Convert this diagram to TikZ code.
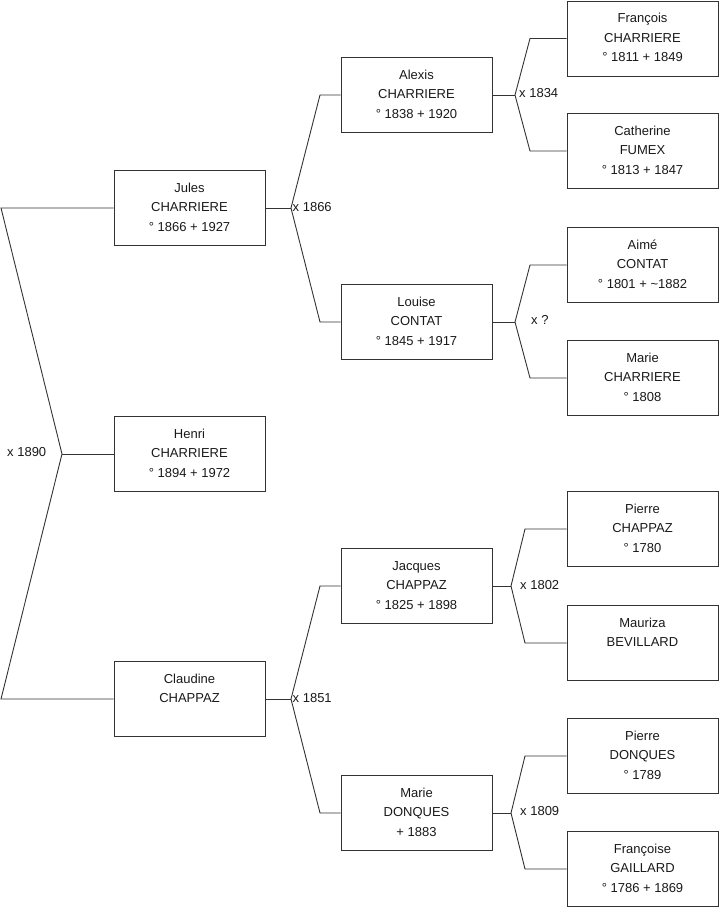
\documentclass[tikz,border=0pt]{standalone}
\usepackage{fontspec}
\setmainfont{Liberation Sans}
\begin{document}
\begin{tikzpicture}[x=1pt,y=-1pt,
  person/.style={draw=black!80, line width=0.9pt, minimum width=151pt, minimum height=75pt,
    inner sep=0pt, align=center, font=\fontsize{13}{19.5}\selectfont, text=black!90},
  link/.style={draw=black!80, line width=0.9pt},
  mar/.style={anchor=west, inner sep=0pt, font=\fontsize{13}{15}\selectfont, text=black!90}]
\useasboundingbox (0,0) rectangle (719,908);

% generation 1
\node[person] (jules)    at (189.5,208) {Jules\strut\\CHARRIERE\strut\\\strut° 1866 + 1927};
\node[person] (henri)    at (189.5,454) {Henri\strut\\CHARRIERE\strut\\\strut° 1894 + 1972};
\node[person] (claudine) at (189.5,699) {Claudine\strut\\CHAPPAZ\strut\\\strut};

% generation 2
\node[person] (alexis)   at (416.5,95)  {Alexis\strut\\CHARRIERE\strut\\\strut° 1838 + 1920};
\node[person] (louise)   at (416.5,322) {Louise\strut\\CONTAT\strut\\\strut° 1845 + 1917};
\node[person] (jacques)  at (416.5,586) {Jacques\strut\\CHAPPAZ\strut\\\strut° 1825 + 1898};
\node[person] (marieD)   at (416.5,813) {Marie\strut\\DONQUES\strut\\\strut+ 1883};

% generation 3
\node[person] (francois)  at (642.5,38.5) {François\strut\\CHARRIERE\strut\\\strut° 1811 + 1849};
\node[person] (catherine) at (642.5,151) {Catherine\strut\\FUMEX\strut\\\strut° 1813 + 1847};
\node[person] (aime)      at (642.5,265) {Aimé\strut\\CONTAT\strut\\\strut° 1801 + \textasciitilde 1882};
\node[person] (marieC)    at (642.5,378) {Marie\strut\\CHARRIERE\strut\\\strut° 1808};
\node[person] (pierreC)   at (642.5,529) {Pierre\strut\\CHAPPAZ\strut\\\strut° 1780};
\node[person] (mauriza)   at (642.5,643) {Mauriza\strut\\BEVILLARD\strut\\\strut};
\node[person] (pierreD)   at (642.5,756) {Pierre\strut\\DONQUES\strut\\\strut° 1789};
\node[person] (francoise) at (642.5,869) {Françoise\strut\\GAILLARD\strut\\\strut° 1786 + 1869};

% marriage 1890
\coordinate (m1890)  at (62,454);
\coordinate (m1890t) at (1,208);
\coordinate (m1890b) at (1,699);
\draw[link] (jules.west) -- (m1890t) -- (m1890) -- (m1890b) -- (claudine.west);
\draw[link] (m1890) -- (henri.west);
\node[mar] (l1890) at (7,452) {x 1890};

% marriage 1866
\coordinate (m1866)  at (291,208);
\coordinate (m1866t) at (320,95);
\coordinate (m1866b) at (320,322);
\draw[link] (jules.east) -- (m1866);
\draw[link] (alexis.west) -- (m1866t) -- (m1866) -- (m1866b) -- (louise.west);
\node[mar] (l1866) at (292.5,207) {x 1866};

% marriage 1851
\coordinate (m1851)  at (291,699);
\coordinate (m1851t) at (320,586);
\coordinate (m1851b) at (320,813);
\draw[link] (claudine.east) -- (m1851);
\draw[link] (jacques.west) -- (m1851t) -- (m1851) -- (m1851b) -- (marieD.west);
\node[mar] (l1851) at (292.5,698) {x 1851};

% marriage 1834
\coordinate (m1834)  at (515,95);
\coordinate (m1834t) at (530,38.5);
\coordinate (m1834b) at (530,151);
\draw[link] (alexis.east) -- (m1834);
\draw[link] (francois.west) -- (m1834t) -- (m1834) -- (m1834b) -- (catherine.west);
\node[mar] (l1834) at (519,93) {x 1834};

% marriage ?
\coordinate (mq)  at (515,322);
\coordinate (mqt) at (530,265);
\coordinate (mqb) at (530,378);
\draw[link] (louise.east) -- (mq);
\draw[link] (aime.west) -- (mqt) -- (mq) -- (mqb) -- (marieC.west);
\node[mar] (lq) at (531,320) {x ?};

% marriage 1802
\coordinate (m1802)  at (511,586);
\coordinate (m1802t) at (525,529);
\coordinate (m1802b) at (525,643);
\draw[link] (jacques.east) -- (m1802);
\draw[link] (pierreC.west) -- (m1802t) -- (m1802) -- (m1802b) -- (mauriza.west);
\node[mar] (l1802) at (520,585) {x 1802};

% marriage 1809
\coordinate (m1809)  at (511,813);
\coordinate (m1809t) at (525,756);
\coordinate (m1809b) at (525,869);
\draw[link] (marieD.east) -- (m1809);
\draw[link] (pierreD.west) -- (m1809t) -- (m1809) -- (m1809b) -- (francoise.west);
\node[mar] (l1809) at (520,811) {x 1809};
\end{tikzpicture}
\end{document}
